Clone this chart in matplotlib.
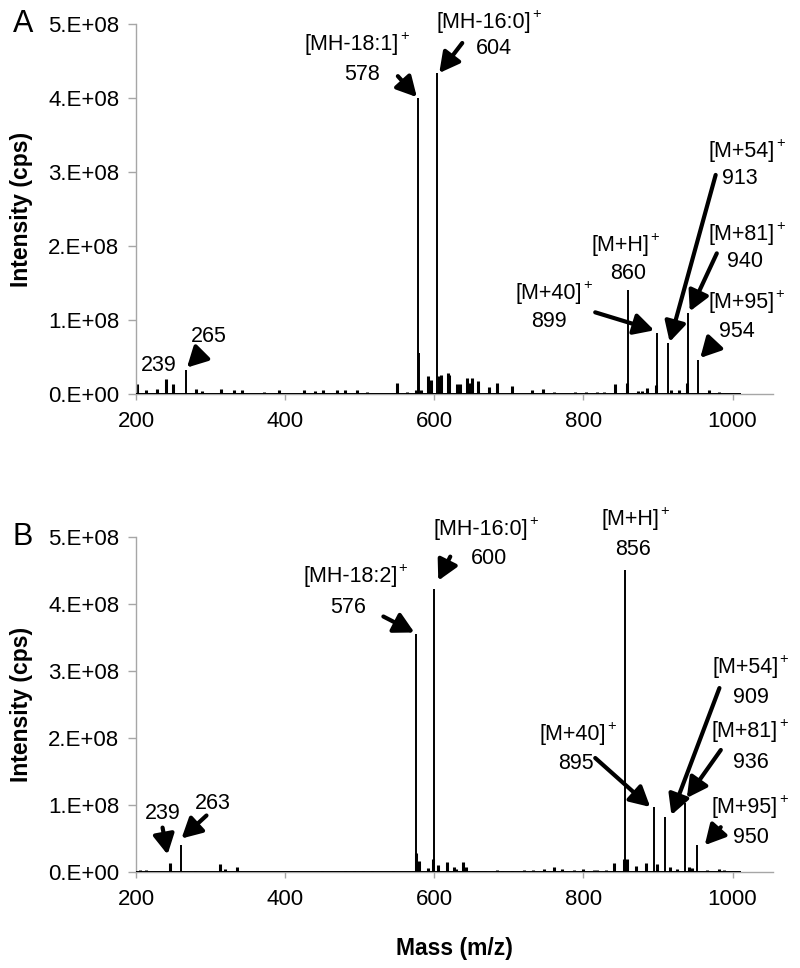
import numpy as np
import matplotlib
matplotlib.use("Agg")
import matplotlib.pyplot as plt
from matplotlib.ticker import FuncFormatter
from matplotlib.transforms import offset_copy

plt.rcParams['font.family'] = ['Liberation Sans', 'DejaVu Sans']

# panel A - peaks (m/z, intensity in 1e8 cps)
a_mz = [202, 214, 228, 240, 249, 267, 281, 288, 314, 331, 342, 371, 392, 425, 440, 451,
        469, 480, 496, 510, 550, 563, 576, 578, 580, 582, 592, 595, 604, 607, 609, 618,
        620, 630, 634, 644, 646, 651, 658, 674, 684, 704, 731, 746, 760, 789, 803, 818,
        827, 842, 858, 860, 873, 879, 885, 897, 899, 913, 917, 928, 939, 940, 954, 968, 982]
a_int = [0.13, 0.05, 0.07, 0.20, 0.14, 0.33, 0.07, 0.04, 0.07, 0.05, 0.05, 0.03, 0.05, 0.05, 0.04, 0.06,
         0.05, 0.05, 0.06, 0.03, 0.15, 0.03, 0.06, 4.00, 0.55, 0.06, 0.24, 0.19, 4.34, 0.24, 0.25, 0.29,
         0.25, 0.13, 0.13, 0.22, 0.15, 0.21, 0.18, 0.10, 0.15, 0.11, 0.05, 0.07, 0.03, 0.03, 0.03, 0.03,
         0.03, 0.13, 0.15, 1.40, 0.04, 0.04, 0.08, 0.12, 0.82, 0.69, 0.05, 0.05, 0.15, 1.09, 0.46, 0.05, 0.02]

# panel B - peaks
b_mz = [205, 214, 245, 261, 279, 313, 319, 336, 449, 480, 492, 505, 516, 545, 575, 576,
        580, 592, 598, 600, 605, 617, 626, 629, 639, 643, 652, 656, 660, 664, 668, 684,
        691, 704, 720, 732, 747, 761, 771, 787, 800, 814, 818, 830, 841, 854, 856, 858,
        871, 884, 895, 899, 910, 916, 926, 936, 941, 945, 952, 966, 982, 988]
b_int = [0.03, 0.03, 0.14, 0.41, 0.02, 0.12, 0.04, 0.07, 0.02, 0.02, 0.02, 0.02, 0.02, 0.02, 0.29, 3.56,
         0.16, 0.06, 0.20, 4.23, 0.10, 0.15, 0.08, 0.05, 0.15, 0.08, 0.02, 0.02, 0.02, 0.02, 0.02, 0.03,
         0.02, 0.02, 0.03, 0.03, 0.05, 0.08, 0.05, 0.03, 0.05, 0.03, 0.03, 0.03, 0.14, 0.20, 4.51, 0.20,
         0.09, 0.13, 0.97, 0.12, 0.82, 0.08, 0.05, 1.03, 0.08, 0.06, 0.40, 0.03, 0.04, 0.03]

# labels: (m/z, number, ion, number offset, ion offset, arrow tail, arrow head)  offsets in px, y down
a_labels = [
    (240, "239", None, (-7, -14), None, None, None),
    (267, "265", None, (23, -33), None, (12, -13), (1, -2)),
    (578, "578", "[MH-18:1]", (-56, -24), (-62, -54), (-20, -22), (-1, -1)),
    (604, "604", "[MH-16:0]", (57, -25), (51, -51), (25, -30), (2, 0)),
    (860, "860", "[M+H]", (0, -17), (-4, -45), None, None),
    (899, "899", "[M+40]", (-108, -12), (-104, -40), (-62, -21), (-3, -3)),
    (913, "913", "[M+54]", (72, -164), (78, -191), (48, -168), (2, -1)),
    (940, "940", "[M+81]", (57, -52), (58, -79), (29, -60), (2, -2)),
    (954, "954", "[M+95]", (39, -28), (47, -57), (16, -17), (2, -2)),
]
b_labels = [
    (245, "239", None, (-7, -49), None, (-7, -35), (-2, -8)),
    (261, "263", None, (31, -41), None, (25, -29), (0, -6)),
    (576, "576", "[MH-18:2]", (-68, -26), (-62, -57), (-33, -17), (-2, -1)),
    (600, "600", "[MH-16:0]", (55, -30), (51, -59), (16, -32), (4, -8)),
    (856, "856", "[M+H]", (8, -20), (9, -50), None, None),
    (895, "895", "[M+40]", (-78, -43), (-77, -72), (-59, -49), (-4, 0)),
    (910, "909", "[M+54]", (86, -120), (84, -150), (54, -129), (6, -2)),
    (936, "936", "[M+81]", (66, -40), (64, -71), (36, -53), (2, -5)),
    (952, "950", "[M+95]", (54, -8), (52, -38), (24, -18), (8, 0)),
]

fig = plt.figure(figsize=(8, 9.68), dpi=100)
axA = fig.add_axes([0.17, 0.593, 0.796, 0.382])
axB = fig.add_axes([0.17, 0.0992, 0.796, 0.346])

grey = '#a6a6a6'


def fmt(v, pos):
    if v == 0:
        return "0.E+00"
    return "%d.E+08" % round(v / 1e8)


def draw(ax, mz, inten, labels, letter):
    mz = np.array(mz)
    h = np.array(inten) * 1e8
    big = h > 0.3e8
    ax.vlines(mz[~big], 0, h[~big], color='black', lw=2.2)
    ax.vlines(mz[big], 0, h[big], color='black', lw=1.4)
    ax.plot([200, 1010], [0, 0], color='black', lw=1.4, zorder=3)
    ax.set_xlim(200, 1054)
    ax.set_ylim(0, 5e8)
    ax.set_xticks([200, 400, 600, 800, 1000])
    ax.set_yticks(np.arange(0, 6) * 1e8)
    ax.yaxis.set_major_formatter(FuncFormatter(fmt))
    for s in ['top', 'right']:
        ax.spines[s].set_visible(False)
    for s in ['left', 'bottom']:
        ax.spines[s].set_color(grey)
        ax.spines[s].set_linewidth(1.0)
    ax.tick_params(axis='y', colors=grey, labelcolor='black', length=6, width=1, labelsize=16, pad=6)
    ax.tick_params(axis='x', colors=grey, labelcolor='black', length=4, width=1, labelsize=16, pad=8)
    ax.set_ylabel("Intensity (cps)", fontsize=16.5, fontweight='bold')
    ax.yaxis.set_label_coords(-0.162, 0.5)
    ax.text(-0.178, 1.0, letter, transform=ax.transAxes, fontsize=22, ha='center', va='center')

    hmap = dict(zip(mz.tolist(), h.tolist()))
    for m, num, ion, noff, ioff, tail, head in labels:
        top = hmap[m]
        ax.annotate(num, xy=(m, top), xytext=(noff[0], -noff[1]), textcoords='offset pixels',
                    ha='center', va='center', fontsize=15.5)
        if ion:
            t = ax.annotate(ion, xy=(m, top), xytext=(ioff[0] - 4, -ioff[1]), textcoords='offset pixels',
                            ha='center', va='center', fontsize=15.5)
            # small superscript plus right after the bracket
            ax.annotate("+", xy=(1, 1), xycoords=t, xytext=(1, -2), textcoords='offset pixels',
                        ha='left', va='center', fontsize=10.5)
        if tail:
            tr = offset_copy(ax.transData, fig=fig, x=head[0], y=-head[1], units='dots')
            ax.annotate('', xy=(m, top), xycoords=tr,
                        xytext=(tail[0] - head[0], -(tail[1] - head[1])), textcoords='offset pixels',
                        arrowprops=dict(arrowstyle='-|>,head_length=0.6,head_width=0.32',
                                        mutation_scale=20, lw=3, color='black',
                                        shrinkA=0, shrinkB=0))


draw(axA, a_mz, a_int, a_labels, "A")
draw(axB, b_mz, b_int, b_labels, "B")
axB.set_xlabel("Mass (m/z)", fontsize=16.5, fontweight='bold')
axB.xaxis.set_label_coords(0.5, -0.227)
axB.xaxis.label.set_va('center')

fig.savefig("out.png", dpi=100)
